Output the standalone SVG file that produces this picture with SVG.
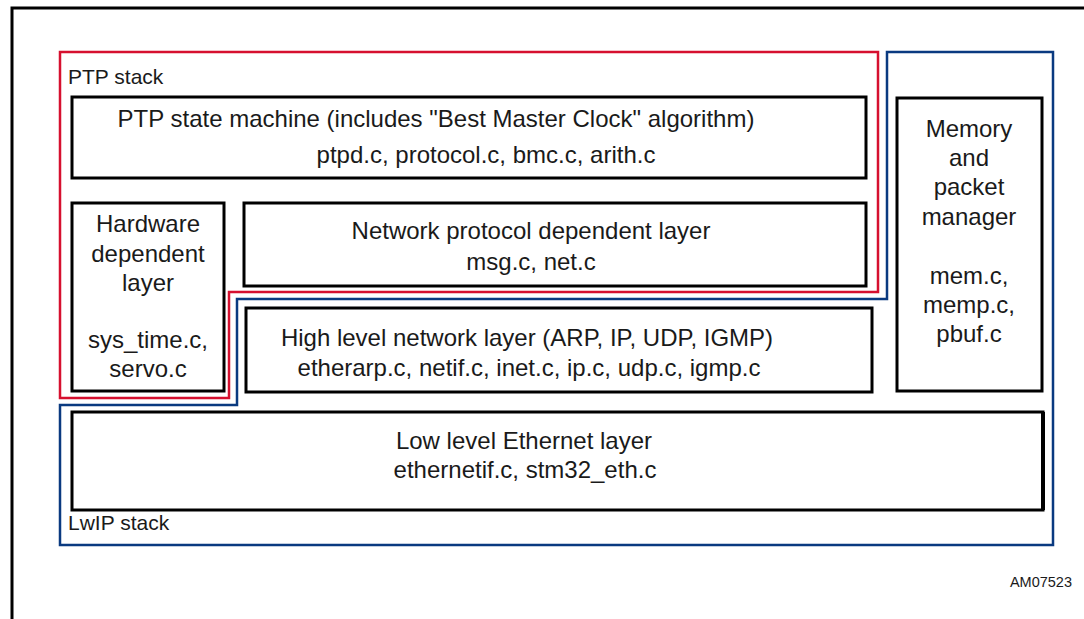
<svg xmlns="http://www.w3.org/2000/svg" width="1084" height="619" viewBox="0 0 1084 619">
<style>
text{font-family:"Liberation Sans",Arial,sans-serif;fill:#1a1a1a}
.t{font-size:24px;text-anchor:middle}
.lbl{font-size:21px}
.box{fill:none;stroke:#000;stroke-width:3}
.red{fill:none;stroke:#d6102f;stroke-width:2.5}
.blue{fill:none;stroke:#0a3a80;stroke-width:2.5}
</style>
<rect width="1084" height="619" fill="#fff"/>
<path d="M12 619 V8 H1084" fill="none" stroke="#000" stroke-width="3"/>
<g id="connectors">
<path id="ptp-outline" class="red" d="M60 52 H878 V292 H229 V398 H60 Z"/>
<path id="lwip-outline" class="blue" d="M887 52 H1053 V545 H60 V405 H237 V299 H887 Z"/>
</g>
<g id="ptp-stack-label"><text class="lbl" x="68" y="84">PTP stack</text></g>
<g id="lwip-stack-label"><text class="lbl" x="68" y="530">LwIP stack</text></g>
<g id="state-machine">
<rect class="box" x="72" y="97" width="794" height="81"/>
<text class="t" x="436" y="127">PTP state machine (includes "Best Master Clock" algorithm)</text>
<text class="t" x="486" y="163">ptpd.c, protocol.c, bmc.c, arith.c</text>
</g>
<g id="hardware-layer">
<rect class="box" x="72" y="203" width="152" height="188"/>
<text class="t" x="148" y="232">Hardware</text>
<text class="t" x="148" y="262">dependent</text>
<text class="t" x="148" y="291">layer</text>
<text class="t" x="148" y="348">sys_time.c,</text>
<text class="t" x="148" y="377">servo.c</text>
</g>
<g id="network-protocol-layer">
<rect class="box" x="244" y="203" width="622" height="83"/>
<text class="t" x="531" y="239">Network protocol dependent layer</text>
<text class="t" x="531" y="270">msg.c, net.c</text>
</g>
<g id="high-level-network-layer">
<rect class="box" x="246" y="308" width="626" height="84" stroke="#222" stroke-width="2.5"/>
<text class="t" x="527" y="346">High level network layer (ARP, IP, UDP, IGMP)</text>
<text class="t" x="529" y="376">etherarp.c, netif.c, inet.c, ip.c, udp.c, igmp.c</text>
</g>
<g id="memory-manager">
<rect class="box" x="897" y="98" width="145" height="293"/>
<text class="t" x="969" y="137">Memory</text>
<text class="t" x="969" y="166">and</text>
<text class="t" x="969" y="195">packet</text>
<text class="t" x="969" y="225">manager</text>
<text class="t" x="969" y="284">mem.c,</text>
<text class="t" x="969" y="313">memp.c,</text>
<text class="t" x="969" y="342">pbuf.c</text>
</g>
<g id="low-level-ethernet-layer">
<rect class="box" x="72" y="412" width="971" height="98"/>
<path d="M1043 412 V510" stroke="#000" stroke-width="4"/>
<text class="t" x="524" y="449">Low level Ethernet layer</text>
<text class="t" x="525" y="478">ethernetif.c, stm32_eth.c</text>
</g>
<g id="figure-id"><text x="1072" y="587" font-size="14.5" text-anchor="end">AM07523</text></g>
</svg>
